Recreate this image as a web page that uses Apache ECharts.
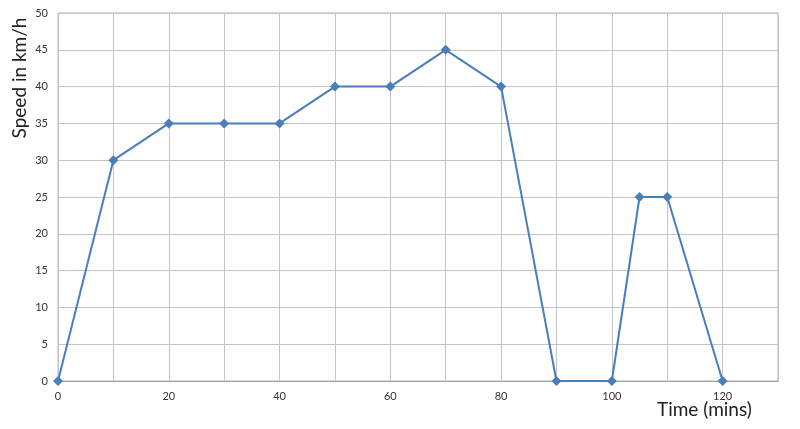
<!DOCTYPE html>
<html><head><meta charset="utf-8">
<script src="https://cdn.jsdelivr.net/npm/echarts@6/dist/echarts.min.js"></script>
<style>html,body{margin:0;padding:0;background:#fff}#c{width:800px;height:429px}</style>
</head><body><div id="c"></div>
<script>
const timeMins = [0, 10, 20, 30, 40, 50, 60, 70, 80, 90, 100, 105, 110, 120];
const speedKmh = [0, 30, 35, 35, 35, 40, 40, 45, 40, 0, 0, 25, 25, 0];
const xTitle = 'Time (mins)';
const yTitle = 'Speed in km/h';

const chart = echarts.init(document.getElementById('c'));
const font = 'Lato, "Open Sans", sans-serif';
chart.setOption({
  animation: false,
  backgroundColor: '#fff',
  grid: { left: 58, right: 22, top: 13, bottom: 48, show: true, borderColor: '#b8b8b8', borderWidth: 1 },
  xAxis: {
    type: 'value', min: 0, max: 130, interval: 10,
    axisLine: { show: true, lineStyle: { color: '#a0a0a0' } },
    axisTick: { show: false },
    splitLine: { show: true, lineStyle: { color: '#c4c4c4', width: 1 } },
    axisLabel: { color: '#333', fontSize: 11, fontFamily: font, margin: 10,
      formatter: v => (v % 20 === 0 && v <= 120) ? String(v) : '' }
  },
  yAxis: {
    type: 'value', min: 0, max: 50, interval: 5,
    axisLine: { show: false },
    axisTick: { show: false },
    splitLine: { show: true, lineStyle: { color: '#c4c4c4', width: 1 } },
    axisLabel: { color: '#333', fontSize: 11, fontFamily: font, margin: 10 }
  },
  graphic: [
    { type: 'text', left: 657, top: 400, style: { text: xTitle, fontSize: 19, fontFamily: font, fill: '#222' } },
    { type: 'text', x: 20, y: 78, rotation: Math.PI / 2,
      style: { text: yTitle, fontSize: 19, fontFamily: font, fill: '#222', align: 'center', verticalAlign: 'middle' } }
  ],
  series: [{
    type: 'line',
    data: timeMins.map((t, i) => [t, speedKmh[i]]),
    symbol: 'diamond', symbolSize: 10,
    lineStyle: { color: '#4a7ebb', width: 2 },
    itemStyle: { color: '#4a7ebb' }
  }]
});
</script></body></html>
